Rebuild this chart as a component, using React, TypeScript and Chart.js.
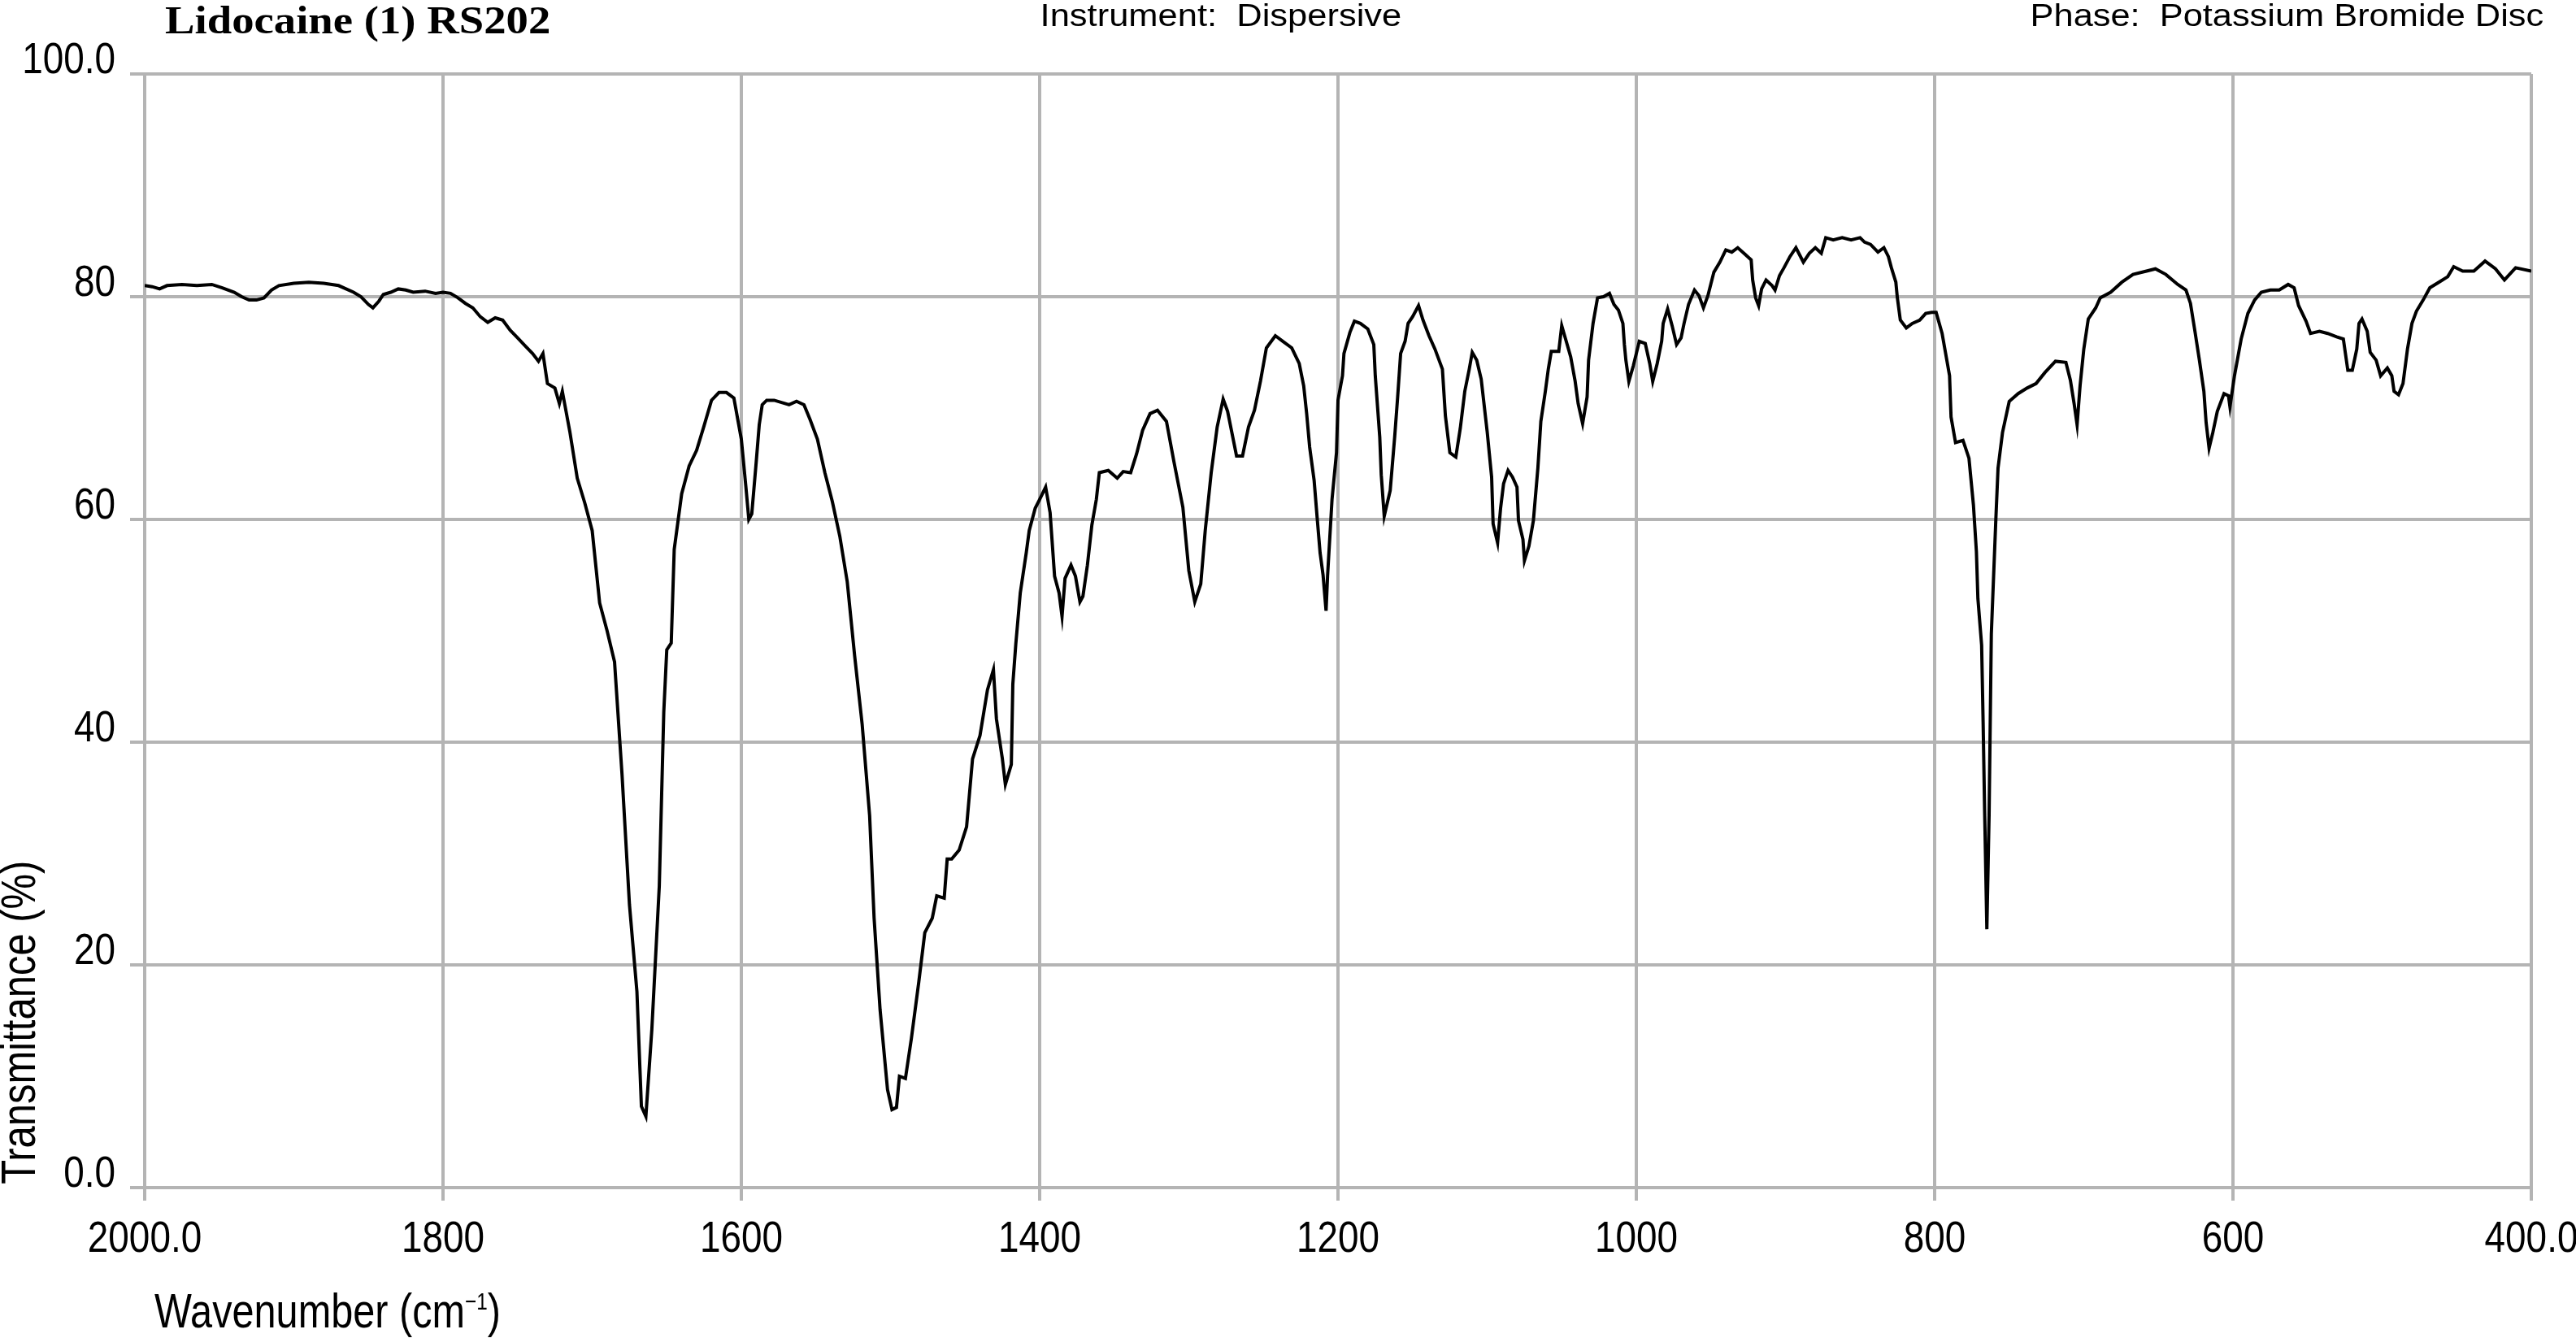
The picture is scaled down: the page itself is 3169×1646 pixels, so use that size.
import React, { useEffect, useRef } from "react";
import { Chart, registerables } from "chart.js";

Chart.register(...registerables);

// ---- Data ----
const WAVENUMBERS: number[] = [
  2000, 1995, 1990, 1985, 1975, 1965, 1955, 1948, 1940, 1935, 1930, 1925, 1920, 1915, 1910, 1900, 1890, 1880,
  1870, 1860, 1855, 1850, 1847, 1843, 1840, 1835, 1830, 1825, 1820, 1812, 1805, 1800, 1795, 1790, 1785, 1780,
  1775, 1770, 1765, 1760, 1755, 1750, 1745, 1740, 1736, 1733, 1730, 1725, 1722, 1720, 1715, 1710, 1705, 1700,
  1695, 1690, 1685, 1680, 1675, 1670, 1667, 1664, 1660, 1655, 1652, 1650, 1647, 1645, 1640, 1635, 1630, 1625,
  1620, 1615, 1610, 1605, 1600, 1597, 1595, 1593, 1590, 1588, 1586, 1583, 1578, 1568, 1563, 1558, 1554, 1549,
  1544, 1539, 1534, 1529, 1524, 1519, 1514, 1511, 1507, 1502, 1499, 1496, 1494, 1490, 1486, 1481, 1477, 1472,
  1469, 1464, 1462, 1459, 1454, 1449, 1445, 1440, 1435, 1431, 1429, 1425, 1423, 1419, 1418, 1416, 1413, 1409,
  1407, 1403, 1400, 1396, 1393, 1390, 1387, 1385, 1383, 1379, 1376, 1373, 1371, 1368, 1365, 1362, 1360, 1354,
  1348, 1344, 1339, 1335, 1331, 1326, 1321, 1315, 1310, 1304, 1300, 1296, 1292, 1289, 1285, 1281, 1277, 1274,
  1268, 1264, 1260, 1256, 1252, 1248, 1242, 1237, 1231, 1226, 1223, 1221, 1219, 1216, 1214, 1212, 1210, 1208,
  1207, 1204, 1201, 1200, 1197, 1196, 1192, 1189, 1185, 1180, 1176, 1175, 1172, 1171, 1169, 1165, 1162, 1160,
  1158, 1155, 1153, 1150, 1146, 1143, 1139, 1135, 1130, 1128, 1125, 1121, 1118, 1115, 1112, 1110, 1107, 1104,
  1100, 1097, 1096, 1093, 1091, 1089, 1086, 1083, 1080, 1079, 1076, 1075, 1072, 1069, 1066, 1064, 1061, 1059,
  1057, 1052, 1050, 1047, 1044, 1041, 1039, 1036, 1033, 1032, 1029, 1026, 1022, 1018, 1015, 1012, 1009, 1008,
  1007, 1005, 1002, 1000, 998, 994, 991, 989, 986, 983, 982, 979, 976, 973, 970, 968, 965, 961, 958, 955, 952,
  948, 944, 940, 936, 932, 927, 923, 922, 920, 918, 916, 913, 909, 907, 904, 901, 897, 893, 888, 884, 880, 876,
  873, 868, 862, 856, 850, 847, 843, 838, 834, 831, 829, 826, 825, 823, 819, 815, 810, 806, 802, 799, 795, 790,
  789, 786, 781, 777, 774, 772, 771, 768.5, 767.5, 766.5, 765, 763.5, 762, 759, 757.5, 754.5, 750, 744, 738,
  732, 726, 719, 712, 709, 706.5, 704.5, 702.5, 700, 697, 692, 689, 682, 674.5, 667, 658, 652, 645, 637, 631.5,
  628.5, 625.5, 622.5, 619.5, 618, 616, 613.5, 610.5, 606, 603, 602, 599, 594.5, 590, 585.5, 581, 575, 569, 563,
  559, 556, 551, 548, 542, 536.5, 530.5, 526, 523, 520, 517, 515.5, 513.5, 510, 508, 504, 501, 496.5, 493.5,
  492, 489, 486, 483, 480, 477, 472.5, 468, 462, 456, 452, 446, 438.5, 431, 424, 418, 410.5, 400,
];

const TRANSMITTANCE: number[] = [
  81.0, 80.9, 80.7, 81.0, 81.1, 81.0, 81.1, 80.8, 80.4, 80.0, 79.7, 79.7, 79.9, 80.6, 81.0, 81.2, 81.3, 81.2,
  81.0, 80.4, 80.0, 79.3, 79.0, 79.6, 80.2, 80.4, 80.7, 80.6, 80.4, 80.5, 80.3, 80.4, 80.3, 79.9, 79.4, 79.0,
  78.2, 77.7, 78.1, 77.9, 77.0, 76.3, 75.6, 74.9, 74.2, 74.9, 72.2, 71.8, 70.4, 71.5, 67.9, 63.7, 61.5, 59.0,
  52.5, 50.0, 47.2, 37.1, 25.4, 17.6, 7.3, 6.4, 14.2, 27.1, 42.7, 48.3, 48.9, 57.3, 62.3, 64.8, 66.2, 68.4,
  70.7, 71.4, 71.4, 70.9, 67.2, 63.0, 60.0, 60.5, 65.2, 68.5, 70.3, 70.7, 70.7, 70.3, 70.6, 70.3, 69.0, 67.2,
  64.2, 61.6, 58.5, 54.4, 47.7, 41.6, 33.4, 24.2, 16.0, 8.8, 7.0, 7.2, 10.0, 9.8, 13.4, 18.5, 22.9, 24.2,
  26.2, 26.0, 29.5, 29.5, 30.3, 32.4, 38.5, 40.6, 44.7, 46.5, 42.1, 38.5, 36.2, 38.0, 45.2, 48.8, 53.4, 57.0,
  59.0, 61.0, 61.8, 62.9, 60.6, 54.9, 53.4, 51.3, 54.7, 55.9, 54.9, 52.6, 53.1, 55.9, 59.5, 61.8, 64.2, 64.4,
  63.7, 64.3, 64.2, 65.9, 68.0, 69.5, 69.8, 68.8, 65.2, 61.1, 55.4, 52.6, 54.2, 59.0, 64.2, 68.3, 70.8, 69.7,
  65.7, 65.7, 68.3, 69.8, 72.4, 75.4, 76.5, 76.0, 75.4, 74.0, 72.0, 69.5, 66.5, 63.5, 60.2, 57.0, 55.0, 51.8,
  54.9, 61.8, 66.0, 70.7, 72.9, 74.9, 76.8, 77.8, 77.6, 77.1, 75.7, 72.9, 67.4, 64.0, 60.3, 62.6, 67.4, 71.0,
  74.9, 76.0, 77.6, 78.2, 79.2, 77.9, 76.5, 75.3, 73.5, 69.3, 66.0, 65.6, 68.2, 71.5, 73.5, 75.0, 74.3, 72.6,
  67.9, 63.8, 59.6, 57.9, 61.0, 63.2, 64.4, 63.8, 62.9, 59.9, 58.2, 56.3, 57.6, 59.9, 64.6, 68.8, 71.5, 73.5,
  75.1, 75.1, 77.4, 76.0, 74.6, 72.4, 70.4, 68.6, 71.0, 74.3, 77.6, 79.9, 80.0, 80.3, 79.3, 78.8, 77.6, 75.7,
  74.3, 72.4, 73.8, 74.9, 76.0, 75.8, 74.0, 72.4, 74.0, 76.0, 77.6, 78.9, 77.4, 75.7, 76.3, 77.6, 79.3, 80.6,
  80.1, 79.0, 80.1, 82.2, 83.1, 84.2, 84.0, 84.4, 83.8, 83.3, 81.5, 79.9, 79.2, 80.7, 81.5, 81.0, 80.6, 81.9,
  82.6, 83.6, 84.4, 83.1, 83.9, 84.4, 83.9, 85.3, 85.1, 85.3, 85.1, 85.3, 84.9, 84.7, 84.0, 84.4, 83.6, 82.6,
  81.3, 79.9, 77.9, 77.2, 77.6, 77.9, 78.5, 78.6, 78.6, 76.7, 72.9, 69.2, 66.9, 67.1, 65.5, 61.3, 57.1, 52.9,
  48.7, 41.8, 33.9, 23.2, 33.4, 49.7, 59.9, 64.6, 67.8, 70.6, 71.3, 71.8, 72.2, 73.2, 74.2, 74.1, 72.5, 70.4,
  68.5, 72.0, 75.3, 78.0, 79.0, 79.9, 80.4, 81.3, 82.0, 82.3, 82.5, 82.0, 81.1, 80.6, 79.4, 76.9, 74.3, 71.5,
  68.7, 66.4, 67.8, 69.7, 71.3, 71.1, 70.1, 72.9, 76.2, 78.5, 79.7, 80.4, 80.6, 80.6, 81.1, 80.8, 79.2, 77.8,
  76.7, 76.9, 76.7, 76.4, 76.2, 73.4, 73.4, 75.3, 77.6, 78.0, 76.9, 75.0, 74.3, 72.9, 73.6, 72.9, 71.5, 71.2,
  72.2, 75.3, 77.6, 78.7, 79.7, 80.8, 81.3, 81.8, 82.7, 82.3, 82.3, 83.2, 82.5, 81.5, 82.6, 82.3,
];

const X_TICK_VALUES: number[] = [2000, 1800, 1600, 1400, 1200, 1000, 800, 600, 400];
const X_TICK_LABELS: string[] = ["2000.0", "1800", "1600", "1400", "1200", "1000", "800", "600", "400.0"];
const Y_TICK_VALUES: number[] = [0, 20, 40, 60, 80, 100];
const Y_TICK_LABELS: string[] = ["0.0", "20", "40", "60", "80", "100.0"];

const TITLE = "Lidocaine (1) RS202";
const INSTRUMENT = "Instrument:  Dispersive";
const PHASE = "Phase:  Potassium Bromide Disc";
const X_TITLE_MAIN = "Wavenumber (cm";
const X_TITLE_SUP = "\u22121";
const X_TITLE_END = ")";
const Y_TITLE = "Transmittance (%)";

const W = 3169;
const H = 1646;
const GRID = "#b4b4b4";
const SANS = "'Liberation Sans', Arial, Helvetica, sans-serif";
const TICK_FONT = "54px " + SANS;
const TICK_SQUEEZE = 0.85;

// draw text so its ink spans [x0, x1] horizontally with the given baseline
function fitText(ctx: CanvasRenderingContext2D, text: string, font: string, x0: number, x1: number, baseline: number) {
  ctx.save();
  ctx.font = font;
  ctx.textAlign = "left";
  ctx.textBaseline = "alphabetic";
  const m = ctx.measureText(text);
  const ink = m.actualBoundingBoxLeft + m.actualBoundingBoxRight;
  const s = (x1 - x0) / ink;
  ctx.translate(x0, baseline);
  ctx.scale(s, 1);
  ctx.fillStyle = "#000";
  ctx.fillText(text, m.actualBoundingBoxLeft, 0);
  ctx.restore();
}

function squeezedText(ctx: CanvasRenderingContext2D, text: string, x: number, y: number, align: CanvasTextAlign) {
  ctx.save();
  ctx.font = TICK_FONT;
  ctx.fillStyle = "#000";
  ctx.textAlign = align;
  ctx.textBaseline = "alphabetic";
  ctx.translate(x, y);
  ctx.scale(TICK_SQUEEZE, 1);
  ctx.fillText(text, 0, 0);
  ctx.restore();
}

const textPlugin = {
  id: "spectrumTexts",
  afterDraw(chart: any) {
    const ctx: CanvasRenderingContext2D = chart.ctx;
    const xs = chart.scales.x;
    const ys = chart.scales.y;

    // tick labels, positioned by the chart's own scales
    X_TICK_VALUES.forEach((v, i) => {
      squeezedText(ctx, X_TICK_LABELS[i], xs.getPixelForValue(v), 1540, "center");
    });
    Y_TICK_VALUES.forEach((v, i) => {
      squeezedText(ctx, Y_TICK_LABELS[i], 142, ys.getPixelForValue(v) - 1, "right");
    });

    // header
    fitText(ctx, TITLE, "bold 48px 'Liberation Serif', 'Times New Roman', serif", 203, 675, 41);
    fitText(ctx, INSTRUMENT, "38px " + SANS, 1283, 1723, 32);
    fitText(ctx, PHASE, "38px " + SANS, 2501, 3128, 32);

    // x axis title with superscript
    ctx.save();
    ctx.fillStyle = "#000";
    ctx.textBaseline = "alphabetic";
    ctx.textAlign = "left";
    const mainFont = "60px " + SANS;
    const supFont = "30px " + SANS;
    ctx.font = mainFont;
    const w1 = ctx.measureText(X_TITLE_MAIN).width;
    const w3 = ctx.measureText(X_TITLE_END).width;
    ctx.font = supFont;
    const w2 = ctx.measureText(X_TITLE_SUP).width;
    const total = w1 + w2 + w3;
    const s = (616 - 190) / total;
    ctx.translate(190, 1633);
    ctx.scale(s, 1);
    ctx.font = mainFont;
    ctx.fillText(X_TITLE_MAIN, 0, 0);
    ctx.font = supFont;
    ctx.fillText(X_TITLE_SUP, w1, -22);
    ctx.font = mainFont;
    ctx.fillText(X_TITLE_END, w1 + w2, 0);
    ctx.restore();

    // y axis title (rotated)
    ctx.save();
    ctx.translate(43, 1456);
    ctx.rotate(-Math.PI / 2);
    ctx.font = "60px " + SANS;
    const m = ctx.measureText(Y_TITLE);
    const yscale = (1456 - 1061) / (m.actualBoundingBoxLeft + m.actualBoundingBoxRight);
    ctx.scale(yscale, 1);
    ctx.fillStyle = "#000";
    ctx.textBaseline = "alphabetic";
    ctx.textAlign = "left";
    ctx.fillText(Y_TITLE, m.actualBoundingBoxLeft, 0);
    ctx.restore();
  },
};

export default function App() {
  const canvasRef = useRef<HTMLCanvasElement | null>(null);

  useEffect(() => {
    const canvas = canvasRef.current;
    if (!canvas) return;
    const points = WAVENUMBERS.map((x, i) => ({ x, y: TRANSMITTANCE[i] }));
    const chart = new Chart(canvas, {
      type: "line",
      data: {
        datasets: [
          {
            data: points,
            borderColor: "#000000",
            borderWidth: 4,
            pointRadius: 0,
            tension: 0,
            fill: false,
            borderJoinStyle: "miter",
          } as any,
        ],
      },
      options: {
        animation: false,
        responsive: false,
        devicePixelRatio: 1,
        parsing: false as any,
        layout: { padding: { top: 91, right: 55, bottom: 0, left: 0 } },
        plugins: {
          legend: { display: false },
          tooltip: { enabled: false },
          title: { display: false },
        },
        scales: {
          x: {
            type: "linear",
            reverse: true,
            min: 400,
            max: 2000,
            afterBuildTicks: (scale: any) => {
              scale.ticks = X_TICK_VALUES.map((v) => ({ value: v }));
            },
            ticks: { display: false },
            grid: { color: GRID, lineWidth: 4, tickLength: 16, drawTicks: true },
            border: { display: false },
            afterFit: (scale: any) => {
              scale.height = 185;
              scale.paddingLeft = 0;
              scale.paddingRight = 0;
            },
          },
          y: {
            type: "linear",
            min: 0,
            max: 100,
            afterBuildTicks: (scale: any) => {
              scale.ticks = Y_TICK_VALUES.map((v) => ({ value: v }));
            },
            ticks: { display: false },
            grid: { color: GRID, lineWidth: 4, tickLength: 18, drawTicks: true },
            border: { display: false },
            afterFit: (scale: any) => {
              scale.width = 178;
              scale.paddingTop = 0;
              scale.paddingBottom = 0;
            },
          },
        },
      },
      plugins: [textPlugin],
    });
    return () => chart.destroy();
  }, []);

  return (
    <div style={{ position: "fixed", left: 0, top: 0, width: W, height: H, background: "#fff" }}>
      <canvas ref={canvasRef} width={W} height={H} style={{ display: "block", width: W, height: H }} />
    </div>
  );
}
